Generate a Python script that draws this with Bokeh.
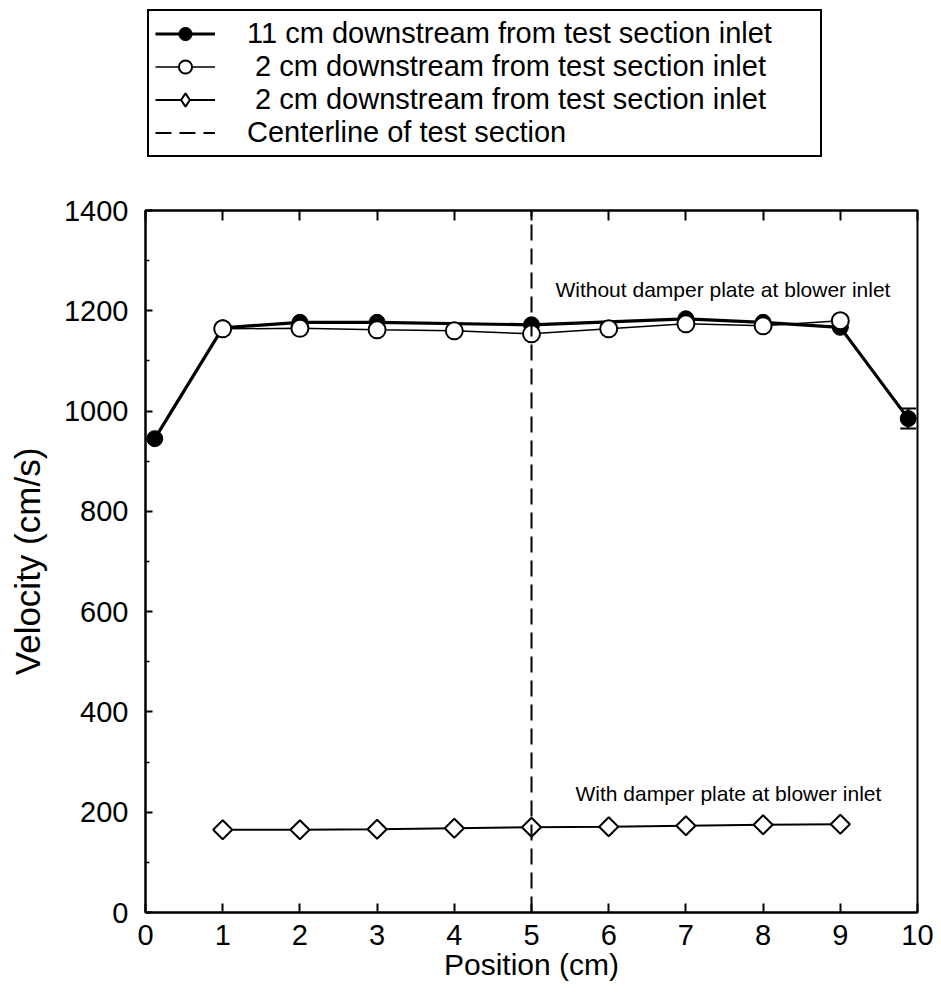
from bokeh.plotting import figure
from bokeh.layouts import column
from bokeh.models import (LinearAxis, Legend, LegendItem, ColumnDataSource,
                          Whisker, TeeHead, FixedTicker)
from bokeh.core.properties import value
from bokeh.embed import file_html
from bokeh.resources import INLINE

# ---------------- data ----------------
pos_11cm = [0.12, 1, 2, 3, 5, 7, 8, 9, 9.88]
vel_11cm = [945, 1166, 1177, 1177, 1172, 1184, 1177, 1167, 985]
err_11cm = [0, 0, 0, 0, 0, 0, 0, 0, 20]

pos_2cm = [1, 2, 3, 4, 5, 6, 7, 8, 9]
vel_2cm = [1164, 1165, 1162, 1160, 1154, 1164, 1174, 1170, 1180]

pos_damper = [1, 2, 3, 4, 5, 6, 7, 8, 9]
vel_damper = [165, 165, 166, 168, 170, 171, 173, 175, 176]

centerline_pos = 5
centerline_span = [0, 1400]

x_ticks = [0, 1, 2, 3, 4, 5, 6, 7, 8, 9, 10]
y_ticks = [0, 200, 400, 600, 800, 1000, 1200, 1400]
y_minor_ticks = [100, 300, 500, 700, 900, 1100, 1300]

legend_labels = ["11 cm downstream from test section inlet",
                 " 2 cm downstream from test section inlet",
                 " 2 cm downstream from test section inlet",
                 "Centerline of test section"]

annot_text = ["Without damper plate at blower inlet", "With damper plate at blower inlet"]
annot_x = [5.31, 5.57]
annot_y = [1242, 237]

FONT = "Liberation Sans"

# styles shared by the plot and its legend
S_FILLED_LINE = dict(line_color="black", line_width=3.2)
S_FILLED_MARK = dict(marker="circle", size=16, fill_color="black", line_color="black", line_width=1)
S_OPEN_LINE = dict(line_color="black", line_width=1.5)
S_OPEN_MARK = dict(marker="circle", size=17, fill_color="white", line_color="black", line_width=2)
S_DAMP_LINE = dict(line_color="black", line_width=2)
S_DAMP_MARK = dict(marker="square", angle=0.785398, size=13.5, fill_color="white",
                   line_color="black", line_width=2)
S_DAMP_MARK_LEG = dict(marker="diamond", size=14, fill_color="white",
                       line_color="black", line_width=2)
S_CENTER = dict(line_color="black", line_width=2, line_dash="16 8")

# ---------------- main figure ----------------
p = figure(frame_width=772, frame_height=702, title=None,
           min_border_left=145, min_border_right=20,
           min_border_top=40, min_border_bottom=78,
           x_range=(0, 10), y_range=(0, 1400),
           output_backend="svg", toolbar_location=None,
           background_fill_color="white", border_fill_color="white")
p.grid.visible = False
p.outline_line_color = "black"
p.outline_line_width = 2

xa = p.xaxis[0]
xa.ticker = FixedTicker(ticks=x_ticks, minor_ticks=[])
xa.axis_label = "Position (cm)"
ya = p.yaxis[0]
ya.ticker = FixedTicker(ticks=y_ticks, minor_ticks=y_minor_ticks)
ya.axis_label = "Velocity (cm/s)"

for ax in (xa, ya):
    ax.axis_line_width = 2
    ax.axis_line_color = "black"
    ax.major_tick_out = 0
    ax.minor_tick_out = 0
    ax.major_tick_line_width = 2
    ax.minor_tick_line_width = 1.5
    ax.major_label_text_font = FONT
    ax.major_label_text_font_size = "29px"
    ax.major_label_text_color = "black"
    ax.axis_label_text_font = FONT
    ax.axis_label_text_font_style = "normal"
    ax.axis_label_text_color = "black"

xa.axis_label_text_font_size = "30px"
ya.axis_label_text_font_size = "35px"
xa.major_tick_in = 9
xa.major_label_standoff = 12
xa.axis_label_standoff = 0
ya.major_tick_in = 7
ya.minor_tick_in = 4
ya.major_label_standoff = 17
ya.axis_label_standoff = 14

top = LinearAxis(ticker=FixedTicker(ticks=x_ticks, minor_ticks=[]),
                 major_tick_in=10, major_tick_out=0, major_tick_line_width=2,
                 axis_line_width=2, major_label_standoff=0,
                 major_label_text_color=None)
p.add_layout(top, "above")

src11 = ColumnDataSource(dict(x=pos_11cm, y=vel_11cm,
                              lo=[v - e for v, e in zip(vel_11cm, err_11cm)],
                              hi=[v + e for v, e in zip(vel_11cm, err_11cm)]))

p.line(pos_damper, vel_damper, **S_DAMP_LINE)
p.scatter(pos_damper, vel_damper, **S_DAMP_MARK)
p.line("x", "y", source=src11, **S_FILLED_LINE)
p.line(pos_2cm, vel_2cm, **S_OPEN_LINE)

whisk = Whisker(source=src11, base="x", upper="hi", lower="lo", dimension="height",
                line_color="black", line_width=2,
                upper_head=TeeHead(size=16, line_width=2, line_color="black"),
                lower_head=TeeHead(size=16, line_width=2, line_color="black"))
p.add_layout(whisk)

p.scatter("x", "y", source=src11, **S_FILLED_MARK)
p.scatter(pos_2cm, vel_2cm, **S_OPEN_MARK)
p.line([centerline_pos, centerline_pos], centerline_span, **S_CENTER)

p.text(x=annot_x, y=annot_y, text=annot_text, text_font=value(FONT),
       text_font_size="21px", text_align="left", text_baseline="alphabetic",
       text_color="black")

# ---------------- legend strip above the plot ----------------
# same series, plotted against ranges that keep them out of view, so only
# their legend entries show in this strip
lg = figure(width=937, height=170, x_range=(-30, -20), y_range=(-3000, -2000),
            x_axis_type=None, y_axis_type=None, title=None,
            min_border_left=0, min_border_right=0, min_border_top=0, min_border_bottom=0,
            output_backend="svg", toolbar_location=None,
            background_fill_color="white", border_fill_color="white")
lg.grid.visible = False
lg.outline_line_color = None

g_fl = lg.line(pos_11cm, vel_11cm, **S_FILLED_LINE)
g_fs = lg.scatter(pos_11cm, vel_11cm, **S_FILLED_MARK)
g_ol = lg.line(pos_2cm, vel_2cm, **S_OPEN_LINE)
g_os = lg.scatter(pos_2cm, vel_2cm, **S_OPEN_MARK)
g_dl = lg.line(pos_damper, vel_damper, **S_DAMP_LINE)
g_ds = lg.scatter(pos_damper, vel_damper, **S_DAMP_MARK_LEG)
g_cl = lg.line([centerline_pos, centerline_pos], centerline_span, **S_CENTER)

legend = Legend(items=[
    LegendItem(label=legend_labels[0], renderers=[g_fl, g_fs]),
    LegendItem(label=legend_labels[1], renderers=[g_ol, g_os]),
    LegendItem(label=legend_labels[2], renderers=[g_dl, g_ds]),
    LegendItem(label=legend_labels[3], renderers=[g_cl]),
], location=(2, 13))
legend.border_line_color = "black"
legend.border_line_width = 2
legend.border_line_alpha = 1
legend.background_fill_color = "white"
legend.background_fill_alpha = 1
legend.label_text_font = FONT
legend.label_text_font_size = "29px"
legend.label_text_color = "black"
legend.glyph_width = 60
legend.glyph_height = 33
legend.label_height = 26
legend.label_width = 567
legend.label_standoff = 32
legend.spacing = 0
legend.padding = 6
legend.margin = 0
lg.add_layout(legend, "center")

layout = column(lg, p, spacing=0)
open("out.html", "w").write(file_html(layout, INLINE))
